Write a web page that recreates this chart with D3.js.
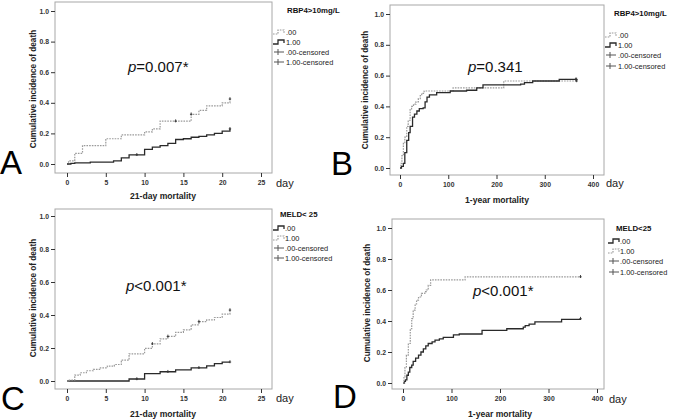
<!DOCTYPE html>
<html><head><meta charset="utf-8">
<script src="https://cdn.jsdelivr.net/npm/d3@7"></script>
<style>body{margin:0;background:#fff}svg{display:block}</style>
</head><body><svg id="c" width="675" height="420"></svg>
<script>
// ---------- DATA ----------
const yTicks = [0, 0.2, 0.4, 0.6, 0.8, 1.0];
const xTicks21 = [0, 5, 10, 15, 20, 25];
const xTicks365 = [0, 100, 200, 300, 400];

// Panel A (RBP4>10mg/L, 21-day)
const aDays00 = [0, 0.2, 1, 2, 5, 7, 10, 11, 12, 16, 17, 18, 20, 21];
const aCum00  = [0, 0.02, 0.07, 0.12, 0.165, 0.19, 0.21, 0.23, 0.28, 0.325, 0.35, 0.38, 0.40, 0.425];
const aCens00 = [14, 16, 21];
const aDays100 = [0, 0.5, 1, 3, 6, 7, 8, 10, 11, 12, 13, 14, 15, 16, 17, 18, 19, 20, 21];
const aCum100  = [0, 0.004, 0.008, 0.012, 0.02, 0.04, 0.06, 0.095, 0.11, 0.12, 0.135, 0.16, 0.165, 0.175, 0.18, 0.19, 0.2, 0.215, 0.23];
const aCens100 = [9, 21];

// Panel B (RBP4>10mg/L, 1-year)
const bDays00 = [0, 2, 4, 7, 10, 14, 17, 21, 24, 28, 33, 38, 42, 45, 50, 110, 215, 366];
const bCum00  = [0, 0.03, 0.08, 0.16, 0.2, 0.27, 0.31, 0.38, 0.40, 0.415, 0.43, 0.45, 0.47, 0.485, 0.5, 0.52, 0.565, 0.565];
const bCens00 = [366];
const bDays100 = [0, 3, 7, 10, 14, 18, 21, 26, 30, 35, 40, 48, 52, 56, 61, 76, 104, 138, 159, 172, 250, 258, 275, 330, 366];
const bCum100  = [0, 0.01, 0.03, 0.1, 0.18, 0.23, 0.27, 0.33, 0.35, 0.37, 0.385, 0.39, 0.43, 0.46, 0.475, 0.49, 0.5, 0.505, 0.52, 0.54, 0.545, 0.555, 0.565, 0.575, 0.575];
const bCens100 = [364, 366];

// Panel C (MELD<25, 21-day)
const cDays00 = [0, 8, 10, 12, 14, 16, 18, 19, 20, 21];
const cCum00  = [0, 0.012, 0.045, 0.056, 0.068, 0.08, 0.092, 0.105, 0.115, 0.115];
const cCens00 = [9, 13, 17, 21];
const cDays100 = [0, 0.3, 1, 1.7, 2.5, 3.4, 4.3, 5.2, 6.1, 7, 8, 10, 11, 12, 13, 14, 15, 16, 17, 18, 19, 20, 21];
const cCum100  = [0, 0.006, 0.036, 0.05, 0.062, 0.07, 0.08, 0.09, 0.1, 0.127, 0.165, 0.198, 0.225, 0.255, 0.27, 0.295, 0.31, 0.34, 0.36, 0.37, 0.385, 0.405, 0.43];
const cCens100 = [11, 13, 17, 21];

// Panel D (MELD<25, 1-year)
const dDays00 = [0, 3, 5, 8, 11, 14, 18, 21, 26, 32, 37, 42, 47, 52, 60, 66, 75, 83, 104, 116, 163, 214, 248, 252, 260, 272, 327, 366];
const dCum00  = [0, 0.01, 0.02, 0.05, 0.07, 0.1, 0.115, 0.14, 0.16, 0.18, 0.2, 0.22, 0.24, 0.255, 0.265, 0.277, 0.285, 0.295, 0.31, 0.316, 0.34, 0.35, 0.36, 0.37, 0.38, 0.395, 0.41, 0.415];
const dCens00 = [366];
const dDays100 = [0, 2, 4, 7, 11, 15, 18, 21, 25, 28, 32, 38, 45, 48, 52, 57, 128, 366];
const dCum100  = [0, 0.04, 0.1, 0.18, 0.255, 0.35, 0.415, 0.47, 0.51, 0.535, 0.555, 0.578, 0.59, 0.6, 0.63, 0.665, 0.685, 0.685];
const dCens100 = [366];

const legendLabels = [".00", "1.00", ".00-censored", "1.00-censored"];

// ---------- LAYOUT ----------
const FONT = "'Liberation Sans', Arial, sans-serif";
const DOT = {stroke: "#9a9a9a", dash: "1.6,1.1", width: 1.2};
const SOL = {stroke: "#2a2a2a", dash: null, width: 1.3};

const panels = [
  {letter: "A", letterPos: [0, 174], box: [55, 2, 272, 173], xDom: [0, 25], xR: [67, 261], yR: [164, 11], xTicks: xTicks21,
   series: [{d: aDays00, v: aCum00, c: aCens00, s: DOT}, {d: aDays100, v: aCum100, c: aCens100, s: SOL}],
   legTitle: "RBP4>10mg/L", legTitlePos: [287, 13], legX: 273, legTextX: 286, legY: [32, 42, 52, 62], legStyles: [DOT, SOL],
   pRest: "=0.007*", pPos: [128, 72], dayPos: [276, 187], xTitle: "21-day mortality", xTitlePos: [163, 199], yTitlePos: [33, 89]},
  {letter: "B", letterPos: [331, 175], box: [390, 5, 604, 175], xDom: [0, 400], xR: [400, 593], yR: [168, 14], xTicks: xTicks365,
   series: [{d: bDays00, v: bCum00, c: bCens00, s: DOT}, {d: bDays100, v: bCum100, c: bCens100, s: SOL}],
   legTitle: "RBP4>10mg/L", legTitlePos: [614, 16], legX: 605, legTextX: 618, legY: [35, 45, 55, 66], legStyles: [DOT, SOL],
   pRest: "=0.341", pPos: [468, 72], dayPos: [606, 187], xTitle: "1-year mortality", xTitlePos: [497, 203], yTitlePos: [365, 90]},
  {letter: "C", letterPos: [1, 410], box: [55, 209, 272, 389], xDom: [0, 25], xR: [67, 261], yR: [381, 216], xTicks: xTicks21,
   series: [{d: cDays00, v: cCum00, c: cCens00, s: SOL}, {d: cDays100, v: cCum100, c: cCens100, s: DOT}],
   legTitle: "MELD< 25", legTitlePos: [280, 217], legX: 273, legTextX: 285, legY: [228, 238, 248, 258], legStyles: [SOL, DOT],
   pRest: "<0.001*", pPos: [126, 291], dayPos: [276, 402], xTitle: "21-day mortality", xTitlePos: [163, 417], yTitlePos: [33, 298]},
  {letter: "D", letterPos: [333, 408], box: [392, 219, 604, 389], xDom: [0, 400], xR: [403, 597], yR: [383, 228], xTicks: xTicks365,
   series: [{d: dDays00, v: dCum00, c: dCens00, s: SOL}, {d: dDays100, v: dCum100, c: dCens100, s: DOT}],
   legTitle: "MELD<25", legTitlePos: [616, 231], legX: 608, legTextX: 620, legY: [241, 251, 261, 272], legStyles: [SOL, DOT],
   pRest: "<0.001*", pPos: [473, 296], dayPos: [609, 403], xTitle: "1-year mortality", xTitlePos: [500, 417], yTitlePos: [367, 303]}
];

const svg = d3.select("#c");

panels.forEach(p => {
  const g = svg.append("g");
  const x = d3.scaleLinear().domain(p.xDom).range(p.xR);
  const y = d3.scaleLinear().domain([0, 1]).range(p.yR);
  const [x0, y0, x1, y1] = p.box;

  g.append("rect").attr("x", x0).attr("y", y0).attr("width", x1 - x0).attr("height", y1 - y0)
    .attr("fill", "none").attr("stroke", "#a8a8a8").attr("stroke-width", 1);

  const ya = g.append("g").attr("transform", `translate(${x0},0)`)
    .call(d3.axisLeft(y).tickValues(yTicks).tickFormat(d3.format(".1f")).tickSize(4).tickPadding(2));
  const xa = g.append("g").attr("transform", `translate(0,${y1})`)
    .call(d3.axisBottom(x).tickValues(p.xTicks).tickFormat(d3.format("d")).tickSize(4).tickPadding(3));
  [ya, xa].forEach(a => {
    a.select(".domain").remove();
    a.selectAll("line").attr("stroke", "#333");
    a.selectAll("text").attr("font-family", FONT).attr("font-size", 6.8).attr("font-weight", "bold").attr("fill", "#333");
  });

  const line = d3.line().x(d => x(d[0])).y(d => y(d[1])).curve(d3.curveStepAfter);
  p.series.forEach(s => {
    const pts = s.d.map((t, i) => [t, s.v[i]]);
    g.append("path").attr("d", line(pts)).attr("fill", "none")
      .attr("stroke", s.s.stroke).attr("stroke-width", s.s.width)
      .attr("stroke-dasharray", s.s.dash);
    const bis = d3.bisector(d => d).right;
    s.c.forEach(t => {
      const i = Math.max(0, bis(s.d, t) - 1);
      const cx = x(t), cy = y(s.v[i]);
      g.append("path").attr("d", `M${cx - 1.2},${cy}H${cx + 1.2}M${cx},${cy - 1.8}V${cy + 1.2}`)
        .attr("stroke", "#333").attr("stroke-width", 0.9);
    });
  });

  const pt = g.append("text").attr("x", p.pPos[0]).attr("y", p.pPos[1])
    .attr("font-family", FONT).attr("font-size", 15).attr("fill", "#111");
  pt.append("tspan").attr("font-style", "italic").text("p");
  pt.append("tspan").text(p.pRest);

  g.append("text").attr("x", p.legTitlePos[0]).attr("y", p.legTitlePos[1])
    .attr("font-family", FONT).attr("font-size", 7.8).attr("font-weight", "bold").attr("fill", "#111").text(p.legTitle);
  p.legY.forEach((ly, i) => {
    const lx = p.legX;
    if (i < 2) {
      const st = p.legStyles[i];
      g.append("path").attr("d", `M${lx},${ly + 2}H${lx + 5}V${ly - 2}H${lx + 11}V${ly + 1}`)
        .attr("fill", "none").attr("stroke", st.stroke).attr("stroke-width", st.width).attr("stroke-dasharray", st.dash);
    } else {
      g.append("path").attr("d", `M${lx + 1},${ly}H${lx + 11}M${lx + 5},${ly - 3}V${ly + 3}`)
        .attr("fill", "none").attr("stroke", "#555").attr("stroke-width", 1);
    }
    g.append("text").attr("x", p.legTextX).attr("y", ly + 2.6)
      .attr("font-family", FONT).attr("font-size", 7.4).attr("fill", "#222").text(legendLabels[i]);
  });

  g.append("text").attr("x", p.xTitlePos[0]).attr("y", p.xTitlePos[1]).attr("text-anchor", "middle")
    .attr("font-family", FONT).attr("font-size", 8.6).attr("font-weight", "bold").attr("fill", "#222").text(p.xTitle);
  g.append("text").attr("transform", `translate(${p.yTitlePos[0]},${p.yTitlePos[1]}) rotate(-90)`)
    .attr("text-anchor", "middle").attr("dominant-baseline", "central")
    .attr("font-family", FONT).attr("font-size", 8.2).attr("font-weight", "bold").attr("fill", "#222")
    .text("Cumulative incidence of death");
  g.append("text").attr("x", p.dayPos[0]).attr("y", p.dayPos[1])
    .attr("font-family", FONT).attr("font-size", 11).attr("fill", "#222").text("day");

  g.append("text").attr("x", p.letterPos[0]).attr("y", p.letterPos[1])
    .attr("font-family", FONT).attr("font-size", 33).attr("fill", "#000").text(p.letter);
});
</script></body></html>
